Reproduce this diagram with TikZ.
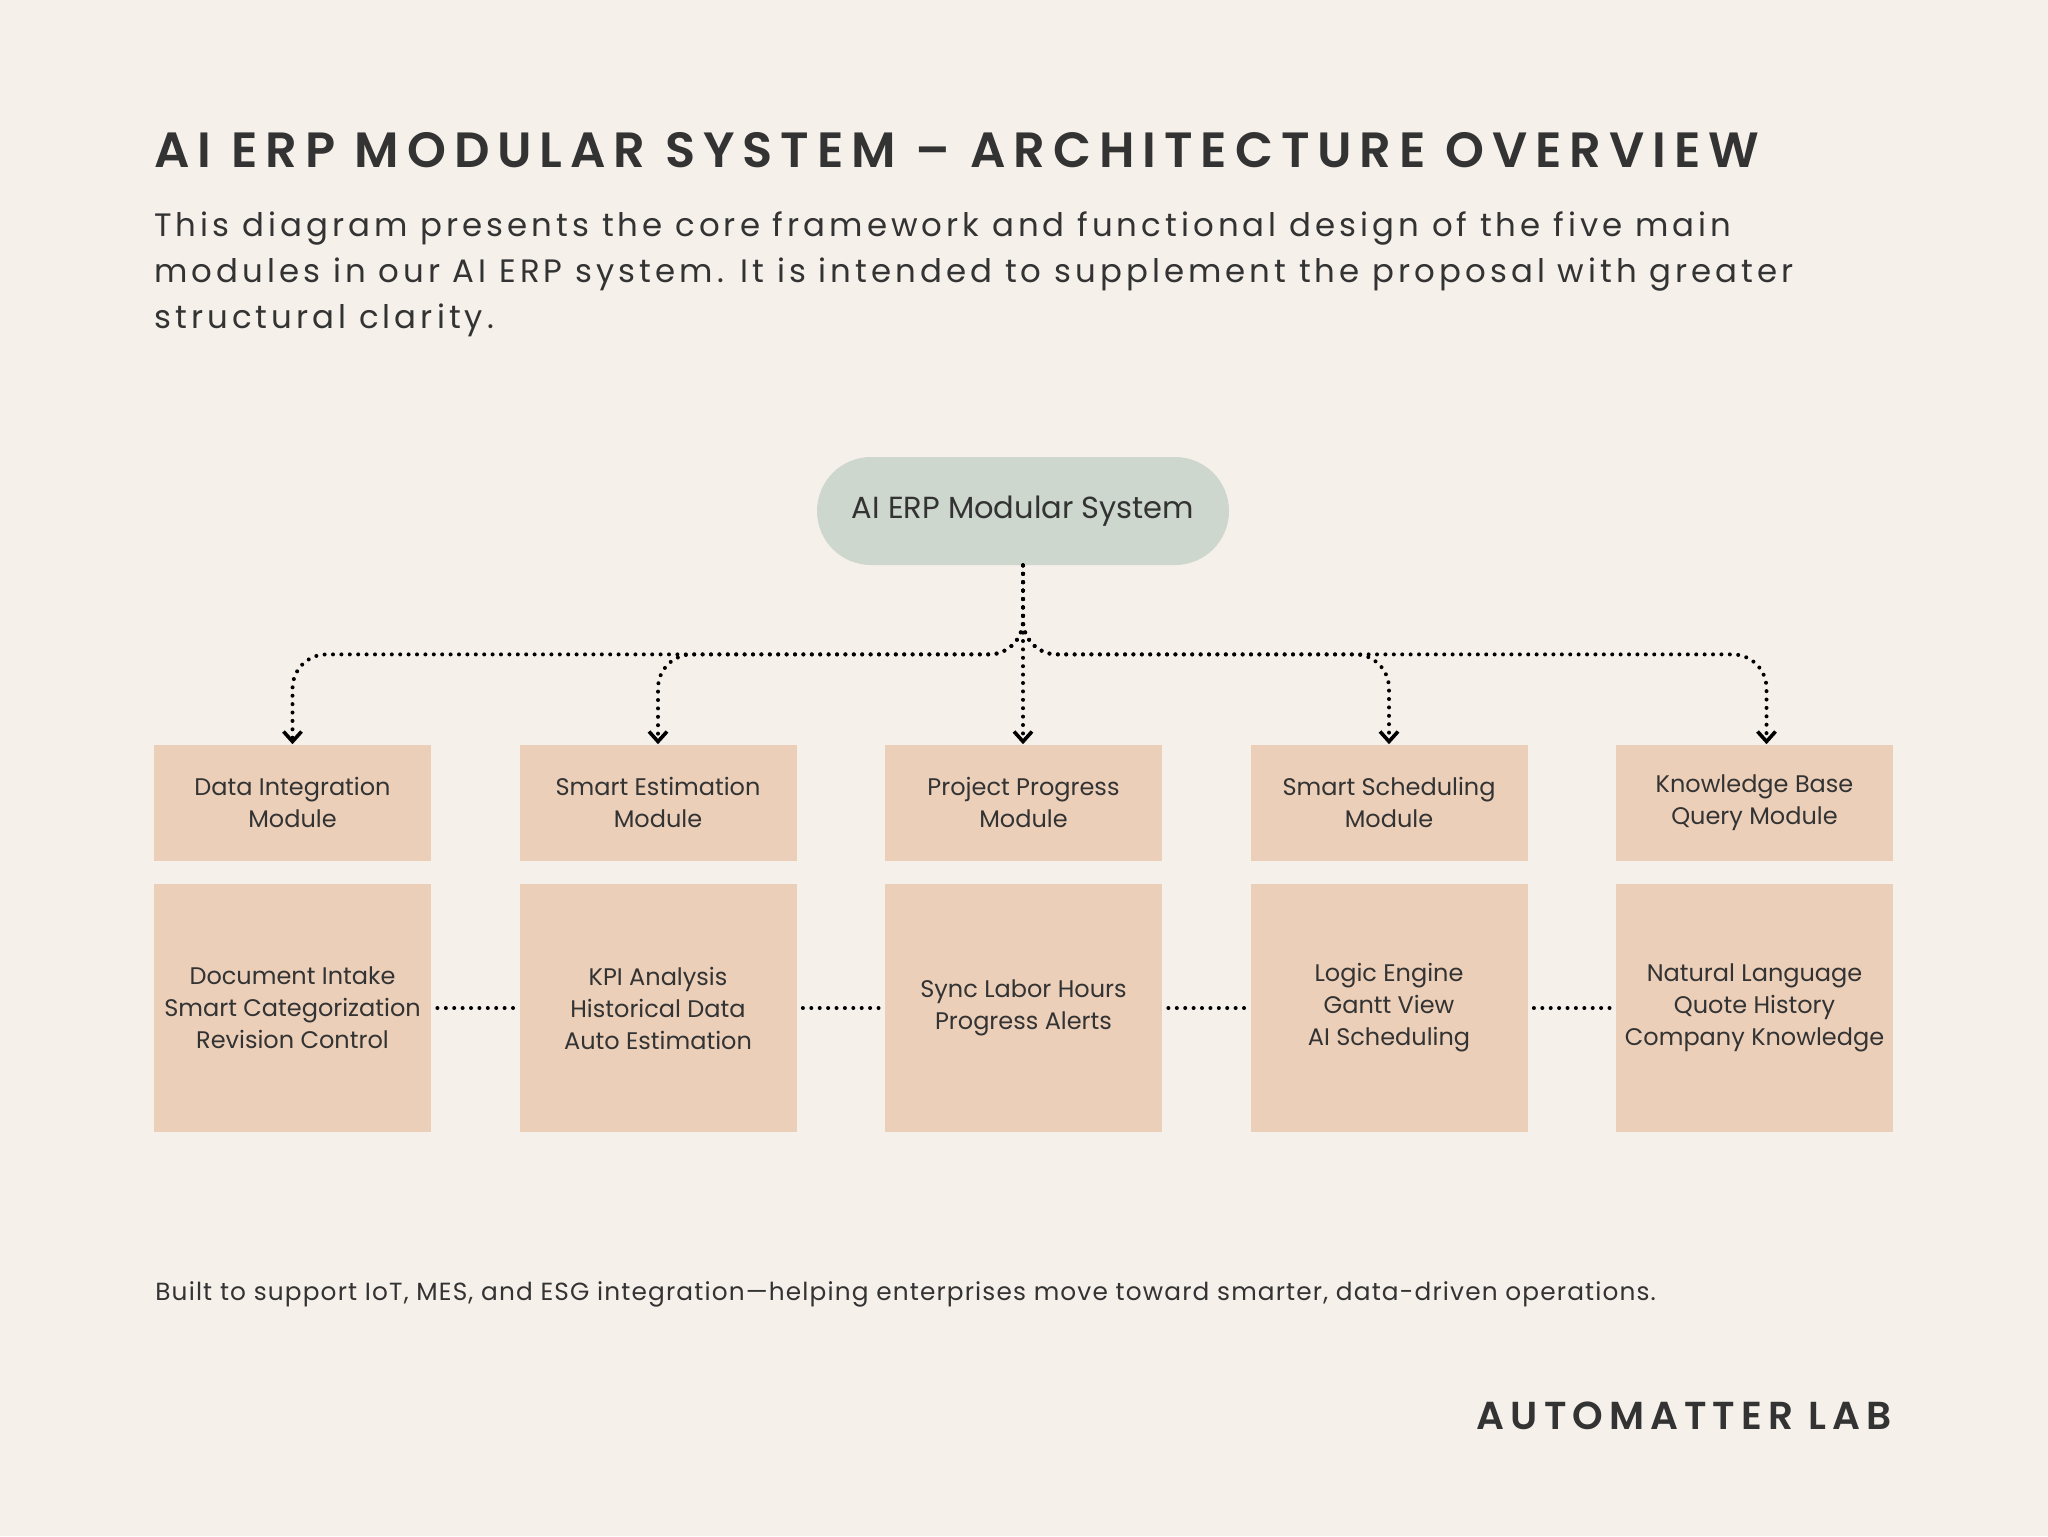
\documentclass[tikz,border=0pt]{standalone}
\usepackage{fontspec}
\setmainfont{Poppins}[BoldFont={* SemiBold}]
\usetikzlibrary{arrows.meta,calc}
\definecolor{bg}{HTML}{F5F0EA}
\definecolor{pillc}{HTML}{CDD7CE}
\definecolor{boxc}{HTML}{EBCFB9}
\definecolor{ink}{HTML}{333333}
\begin{document}
\begin{tikzpicture}[x=0.5pt,y=-0.5pt,
  txt/.style={inner sep=0pt, text=ink, anchor=base west},
  modbox/.style={fill=boxc, minimum width=138.5pt, minimum height=58pt, inner sep=0pt,
    align=center, text=ink, font=\fontsize{12}{16}\selectfont},
  detbox/.style={modbox, minimum height=124pt},
  pill/.style={fill=pillc, rounded corners=27pt, minimum width=206pt, minimum height=54pt,
    inner sep=0pt, text=ink, font=\fontsize{15.25}{18}\selectfont},
  conn/.style={black, line width=2pt, dash pattern=on 0pt off 4.2pt, line cap=round},
  tipped/.style={-{Straight Barb[length=5pt,width=9pt,line width=1.8pt]}}
]
\fill[bg] (0,0) rectangle (2048,1536);
\useasboundingbox (0,0) rectangle (2048,1536);

% title and intro
\node[txt, font=\fontsize{24.75}{30}\selectfont\bfseries\addfontfeature{LetterSpace=16}] (title) at (154,167)
  {AI ERP MODULAR SYSTEM – ARCHITECTURE OVERVIEW};
\node[txt, font=\fontsize{16.2}{23}\selectfont\addfontfeature{LetterSpace=12.5}] (sub1) at (154,236)
  {This diagram presents the core framework and functional design of the five main};
\node[txt, font=\fontsize{16.2}{23}\selectfont\addfontfeature{LetterSpace=12.5}] (sub2) at (154,282)
  {modules in our AI ERP system. It is intended to supplement the proposal with greater};
\node[txt, font=\fontsize{16.2}{23}\selectfont\addfontfeature{LetterSpace=12.5}] (sub3) at (154,328)
  {structural clarity.};

% central node
\node[pill] (sys) at (1023,511) {AI ERP Modular System};

% module boxes
\node[modbox] (m1) at (292.5,802.6) {Data Integration\\Module};
\node[modbox] (m2) at (658,802.6) {Smart Estimation\\Module};
\node[modbox] (m3) at (1023.5,802.6) {Project Progress\\Module};
\node[modbox] (m4) at (1389,802.6) {Smart Scheduling\\Module};
\node[modbox] (m5) at (1754.5,802.6) {Knowledge Base\\Query Module};

\node[detbox] (d1) at (292.5,1008) {Document Intake\\Smart Categorization\\Revision Control};
\node[detbox] (d2) at (658,1008) {KPI Analysis\\Historical Data\\Auto Estimation};
\node[detbox] (d3) at (1023.5,1008) {Sync Labor Hours\\Progress Alerts};
\node[detbox] (d4) at (1389,1008) {Logic Engine\\Gantt View\\AI Scheduling};
\node[detbox] (d5) at (1754.5,1008) {Natural Language\\Quote History\\Company Knowledge};

% connectors from central node
\coordinate (hub) at ($(sys.south)+(0,89)$);
\coordinate (t5) at ($(m5.north)+(12,0)$);
\draw[conn, tipped, rounded corners=17pt] (sys.south) -- (hub) -| (m1.north);
\draw[conn, tipped, rounded corners=17pt] (sys.south) -- (hub) -| (m2.north);
\draw[conn, tipped] (sys.south) -- (sys.south |- m3.north);
\draw[conn, tipped, rounded corners=17pt] (sys.south) -- (hub) -| (m4.north);
\draw[conn, tipped, rounded corners=17pt] (sys.south) -- (hub) -| (t5);

% links between detail boxes
\draw[conn, shorten <=3pt, shorten >=3pt] (d1.east) -- (d2.west);
\draw[conn, shorten <=3pt, shorten >=3pt] (d2.east) -- (d3.west);
\draw[conn, shorten <=3pt, shorten >=3pt] (d3.east) -- (d4.west);
\draw[conn, shorten <=3pt, shorten >=3pt] (d4.east) -- (d5.west);

% footer
\node[txt, font=\fontsize{12.4}{15}\selectfont\addfontfeature{LetterSpace=4.6}] (foot) at (155,1300.7)
  {Built to support IoT, MES, and ESG integration—helping enterprises move toward smarter, data-driven operations.};
\node[txt, anchor=base east, font=\fontsize{19.5}{24}\selectfont\bfseries\addfontfeature{LetterSpace=15.5}] (brand) at (1892,1429)
  {AUTOMATTER LAB};
\end{tikzpicture}
\end{document}
